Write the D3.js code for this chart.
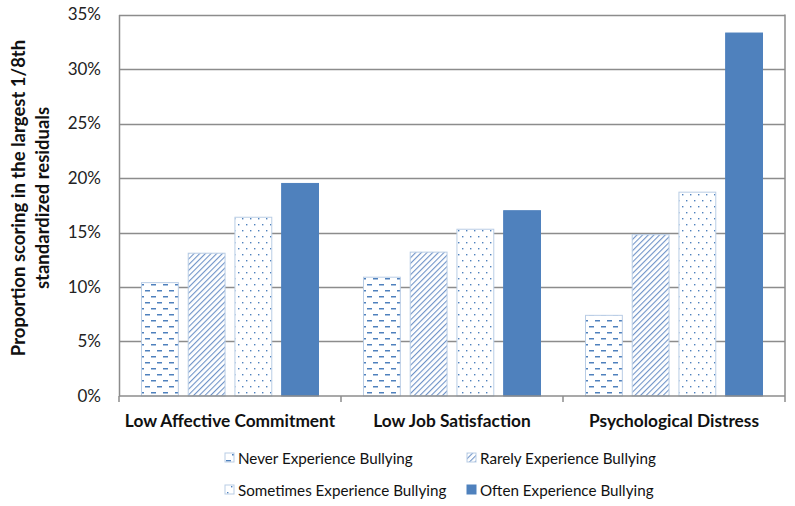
<!DOCTYPE html>
<html><head><meta charset="utf-8">
<script src="https://cdn.jsdelivr.net/npm/d3@7"></script>
<style>body{margin:0;background:#fff}svg{display:block}text{font-family:Lato,"Open Sans",sans-serif}</style>
</head><body>
<script>
const categories = ["Low Affective Commitment","Low Job Satisfaction","Psychological Distress"];
const seriesNames = ["Never Experience Bullying","Rarely Experience Bullying","Sometimes Experience Bullying","Often Experience Bullying"];
const never = [0.104, 0.109, 0.074];
const rarely = [0.131, 0.132, 0.148];
const sometimes = [0.164, 0.153, 0.187];
const often = [0.195, 0.170, 0.333];
const yTicks = [0,0.05,0.10,0.15,0.20,0.25,0.30,0.35];
const seriesValues = [never, rarely, sometimes, often];
const fills = ["url(#pDash)","url(#pDiag)","url(#pDot)","#4F81BD"];
const strokes = ["#B9CDE5","#B9CDE5","#B9CDE5","#4F81BD"];

const W=795,H=506;
const svg=d3.select("body").append("svg").attr("width",W).attr("height",H);
const defs=svg.append("defs");
const blue="#4F81BD";
// dash pattern
let p=defs.append("pattern").attr("id","pDash").attr("patternUnits","userSpaceOnUse").attr("width",12).attr("height",12);
p.append("rect").attr("width",12).attr("height",12).attr("fill","#fff");
p.append("rect").attr("x",1).attr("y",2).attr("width",5).attr("height",1.5).attr("fill",blue);
p.append("rect").attr("x",7).attr("y",8).attr("width",5).attr("height",1.5).attr("fill",blue);
// diagonal
p=defs.append("pattern").attr("id","pDiag").attr("patternUnits","userSpaceOnUse").attr("width",4).attr("height",4)
  .attr("patternTransform","rotate(45)");
p.append("rect").attr("width",4).attr("height",4).attr("fill","#fff");
p.append("rect").attr("x",0).attr("y",0).attr("width",1.1).attr("height",4).attr("fill","#6F93C8");
// dots
p=defs.append("pattern").attr("id","pDot").attr("patternUnits","userSpaceOnUse").attr("width",8).attr("height",12);
p.append("rect").attr("width",8).attr("height",12).attr("fill","#fff");
p.append("rect").attr("x",2).attr("y",2).attr("width",1.4).attr("height",1.4).attr("fill",blue);
p.append("rect").attr("x",6).attr("y",8).attr("width",1.4).attr("height",1.4).attr("fill",blue);

const L=119,R=785,T=14.5,B=396;
const x=d3.scaleBand().domain(categories).range([L,R]).paddingInner(0).paddingOuter(0);
const xi=d3.scaleBand().domain(d3.range(4)).range([22, x.bandwidth()-22]).paddingInner(0.19).paddingOuter(0);
const y=d3.scaleLinear().domain([0,0.35]).range([B,T]);

// gridlines
svg.append("g").selectAll("line").data(yTicks.slice(1)).join("line")
  .attr("x1",L).attr("x2",R).attr("y1",d=>Math.round(y(d))+0.5).attr("y2",d=>Math.round(y(d))+0.5)
  .attr("stroke","#8c8c8c").attr("stroke-width",1.5);
// right border
svg.append("line").attr("x1",R).attr("x2",R).attr("y1",T).attr("y2",B).attr("stroke","#8c8c8c").attr("stroke-width",1.5);

// bars
seriesValues.forEach((vals,si)=>{
  svg.append("g").selectAll("rect").data(vals).join("rect")
    .attr("x",(d,i)=>x(categories[i])+xi(si)+0.5)
    .attr("y",d=>y(d))
    .attr("width",xi.bandwidth()-1)
    .attr("height",d=>B-y(d))
    .attr("fill",fills[si]).attr("stroke",strokes[si]).attr("stroke-width",1);
});

// y axis
const ya=svg.append("g").attr("transform",`translate(${L},0)`)
  .call(d3.axisLeft(y).tickValues(yTicks).tickFormat(d=>Math.round(d*100)+"%").tickSize(0).tickPadding(18));
ya.select(".domain").attr("stroke","#8c8c8c").attr("stroke-width",1.5);
ya.selectAll("text").attr("font-size",17).attr("fill","#222").attr("font-family","Lato");

// x axis
const xa=svg.append("g").attr("transform",`translate(0,${B})`);
xa.append("line").attr("x1",L).attr("x2",R).attr("y1",0).attr("y2",0).attr("stroke","#8c8c8c").attr("stroke-width",1.5);
xa.selectAll("line.t").data([L,...categories.map(c=>x(c)+x.bandwidth())]).join("line").attr("class","t")
  .attr("x1",d=>d).attr("x2",d=>d).attr("y1",0).attr("y2",6).attr("stroke","#8c8c8c").attr("stroke-width",1.5);
xa.selectAll("text").data(categories).join("text")
  .attr("x",d=>x(d)+x.bandwidth()/2).attr("y",31).attr("text-anchor","middle")
  .attr("font-size",17.3).attr("font-weight","bold").attr("fill","#111").text(d=>d);

// y title
const yt=svg.append("text").attr("transform","translate(25,198) rotate(-90)").attr("text-anchor","middle")
  .attr("font-size",18.5).attr("font-weight","bold").attr("fill","#111");
yt.append("tspan").attr("x",0).attr("dy",0).text("Proportion scoring in the largest 1/8th");
yt.append("tspan").attr("x",0).attr("dy",24).text("standardized residuals");

// legend
const legPos=[[225,458],[467,458],[225,490],[467,490]];
const lg=svg.append("g").selectAll("g").data(seriesNames).join("g").attr("transform",(d,i)=>`translate(${legPos[i][0]},${legPos[i][1]})`);
lg.append("rect").attr("x",0).attr("y",-5).attr("width",9).attr("height",9)
  .attr("fill",(d,i)=>fills[i]).attr("stroke",(d,i)=>strokes[i]);
lg.append("text").attr("x",13).attr("y",5.5).attr("font-size",15.2).attr("fill","#111").text(d=>d);
</script>
</body></html>
